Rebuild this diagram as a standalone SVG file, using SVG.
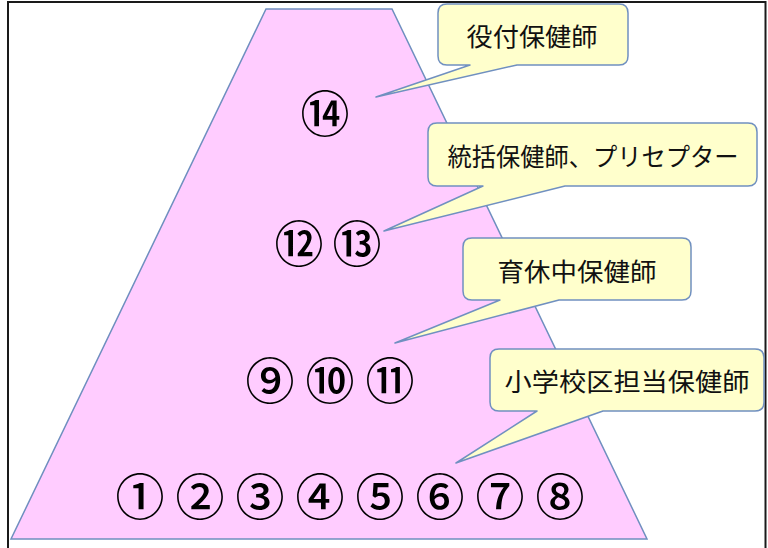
<svg xmlns="http://www.w3.org/2000/svg" width="768" height="548" viewBox="0 0 768 548">
  <style>
    .num { font-family: "Noto Sans CJK JP", "DejaVu Sans", sans-serif; font-size: 49px; font-weight: 500; fill: #000; text-anchor: middle; dominant-baseline: central; }
    .callout { fill: #FFFFCC; stroke: #7090C0; stroke-width: 1.5; stroke-linejoin: round; }
    .label { font-family: "Noto Sans CJK JP", "Noto Sans", sans-serif; font-size: 25px; font-weight: 400; fill: #111; text-anchor: middle; dominant-baseline: central; }
  </style>
  <rect x="0" y="0" width="768" height="548" fill="#FFFFFF"/>
  <rect id="frame" x="8" y="2" width="757.5" height="560" fill="none" stroke="#1A1A1A" stroke-width="2"/>

  <g id="pyramid">
    <polygon points="266,9 392,9 647,539 11,539" fill="#FFCCFF" stroke="#6F8FBF" stroke-width="1.5"/>
  </g>

  <g id="level-top">
    <text class="num" x="325" y="110">⑭</text>
  </g>
  <g id="level-3">
    <text class="num" x="299" y="240">⑫</text>
    <text class="num" x="357" y="240">⑬</text>
  </g>
  <g id="level-2">
    <text class="num" x="270" y="377">⑨</text>
    <text class="num" x="330" y="377">⑩</text>
    <text class="num" x="390" y="377">⑪</text>
  </g>
  <g id="level-1">
    <text class="num" x="140" y="493">①</text>
    <text class="num" x="200" y="493">②</text>
    <text class="num" x="260" y="493">③</text>
    <text class="num" x="320" y="493">④</text>
    <text class="num" x="380" y="493">⑤</text>
    <text class="num" x="440" y="493">⑥</text>
    <text class="num" x="500" y="493">⑦</text>
    <text class="num" x="560" y="493">⑧</text>
  </g>

  <g id="connectors"></g>

  <g id="callout-yakutsuki">
    <path class="callout" d="M447,4 H619 Q628,4 628,13 V56 Q628,65 619,65 H517 L376,97 L470,65 H447 Q438,65 438,56 V13 Q438,4 447,4 Z"/>
    <text class="label" x="532" y="35" textLength="131" lengthAdjust="spacingAndGlyphs">役付保健師</text>
  </g>
  <g id="callout-tokatsu">
    <path class="callout" d="M437,123 H748 Q757,123 757,132 V177 Q757,186 748,186 H565 L384,231 L483,186 H437 Q428,186 428,177 V132 Q428,123 437,123 Z"/>
    <text class="label" x="593" y="155" textLength="291" lengthAdjust="spacingAndGlyphs">統括保健師、プリセプター</text>
  </g>
  <g id="callout-ikukyu">
    <path class="callout" d="M472,238 H682 Q691,238 691,247 V291 Q691,300 682,300 H559 L395,343 L500,300 H472 Q463,300 463,291 V247 Q463,238 472,238 Z"/>
    <text class="label" x="577" y="270" textLength="159" lengthAdjust="spacingAndGlyphs">育休中保健師</text>
  </g>
  <g id="callout-shogakko">
    <path class="callout" d="M499,349 H755 Q764,349 764,358 V402 Q764,411 755,411 H603 L456,463 L537,411 H499 Q490,411 490,402 V358 Q490,349 499,349 Z"/>
    <text class="label" x="627" y="380" textLength="245" lengthAdjust="spacingAndGlyphs">小学校区担当保健師</text>
  </g>
</svg>
